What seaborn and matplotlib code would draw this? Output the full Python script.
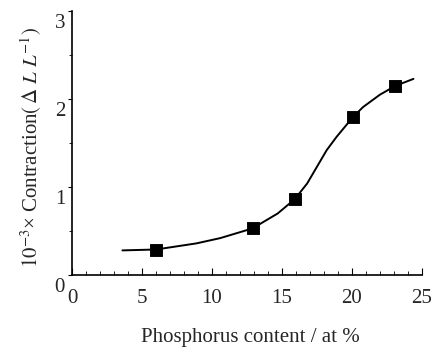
import numpy as np
import pandas as pd
import matplotlib
matplotlib.use("Agg")
import matplotlib.pyplot as plt
import matplotlib.transforms as mtransforms
import seaborn as sns
from matplotlib.ticker import MultipleLocator

# measured points
p_content = [6.0, 12.9, 15.9, 20.1, 23.1]
contraction = [0.29, 0.53, 0.86, 1.80, 2.15]

# smooth trend curve
curve_x = [3.6, 6.0, 8.9, 10.6, 12.9, 14.7, 15.9, 16.8, 18.2, 18.9, 20.1, 20.8, 22.0, 23.1, 24.4]
curve_y = [0.28, 0.29, 0.36, 0.42, 0.53, 0.70, 0.86, 1.04, 1.42, 1.57, 1.80, 1.91, 2.05, 2.15, 2.23]

x_ticks = [0, 5, 10, 15, 20, 25]
y_ticks = [0, 1, 2, 3]

sns.set_style("ticks")
plt.rcParams['font.family'] = ['Liberation Serif', 'DejaVu Serif']
plt.rcParams['mathtext.fontset'] = 'stix'

fig = plt.figure(figsize=(4.34, 3.49), dpi=100)
ax = fig.add_axes([0.166, 0.212, 0.806, 0.756])

curve = pd.DataFrame({"x": curve_x, "y": curve_y})
pts = pd.DataFrame({"x": p_content, "y": contraction})
sns.lineplot(data=curve, x="x", y="y", ax=ax, color="black", lw=1.4, estimator=None, sort=False)
sns.scatterplot(data=pts, x="x", y="y", ax=ax, marker="s", color="black", s=65, edgecolor="black", zorder=5)

ax.set_xlim(0, 25)
ax.set_ylim(0, 3)
ax.set_xticks(x_ticks)
ax.set_yticks(y_ticks)
ax.xaxis.set_minor_locator(MultipleLocator(1))
ax.yaxis.set_minor_locator(MultipleLocator(0.5))
ax.tick_params(which="both", labelsize=15, color="black")
ax.tick_params(axis="x", which="both", direction="in")
ax.tick_params(axis="x", which="major", length=5, pad=10)
ax.tick_params(axis="x", which="minor", length=3)
ax.tick_params(axis="y", which="both", direction="out")
ax.tick_params(axis="y", which="major", length=3, pad=2)
ax.tick_params(axis="y", which="minor", length=2)
for s in ["top", "right"]:
    ax.spines[s].set_visible(False)
for s in ["left", "bottom"]:
    ax.spines[s].set_color("black")
    ax.spines[s].set_linewidth(1.2)

# y tick labels sit slightly below their ticks in the reference
offset = mtransforms.ScaledTranslation(0, -10 / 100, fig.dpi_scale_trans)
for lab in ax.get_yticklabels():
    lab.set_transform(lab.get_transform() + offset)

ax.set_xlabel("Phosphorus content / at %", fontsize=15)
ax.xaxis.set_label_coords(0.51, -0.2)
ax.set_ylabel(r"$10^{-3}$× Contraction$(\,\Delta\ L\ L^{-1})$", fontsize=15)
ax.yaxis.set_label_coords(-0.08, 0.485)

fig.savefig("out.png", dpi=100)
